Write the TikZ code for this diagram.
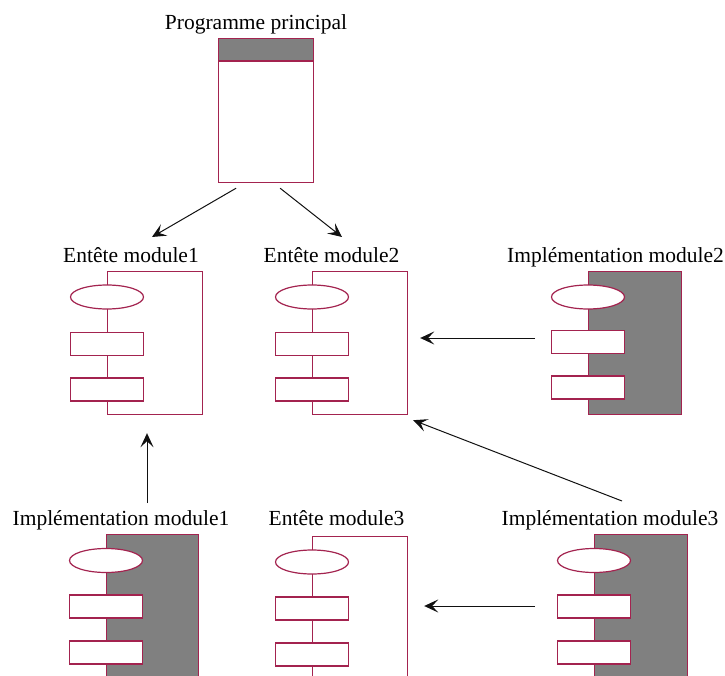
\documentclass[tikz,border=0pt]{standalone}
\usepackage{fontspec}
\setmainfont{Liberation Serif}
\usepackage{tikz}
\usetikzlibrary{arrows.meta,positioning,shapes.geometric}
\definecolor{framered}{HTML}{A3234F}
\definecolor{implgray}{HTML}{808080}
\definecolor{inkblack}{HTML}{111111}
\tikzset{
  headframe/.style={
    rectangle, draw=framered, line width=1.2pt, fill=white,
    anchor=north west, inner sep=0pt, minimum width=95pt, minimum height=143pt
  },
  implframe/.style={
    headframe, fill=implgray, minimum width=93pt
  },
  procoval/.style={
    ellipse, draw=framered, line width=1.2pt, fill=white,
    inner sep=0pt, minimum width=73pt, minimum height=24pt
  },
  procbox/.style={
    rectangle, draw=framered, line width=1.2pt, fill=white,
    inner sep=0pt, minimum width=73pt, minimum height=23pt
  },
  modlabel/.style={anchor=base, inner sep=0pt, font=\fontsize{21.5}{24}\selectfont},
  linkarrow/.style={-{Stealth[length=14pt,width=13pt,inset=6pt]}, line width=1pt, color=inkblack},
}
\begin{document}
\begin{tikzpicture}[x=1pt, y=-1pt]
  \useasboundingbox (0,0) rectangle (725,676);
  \clip (0,0) rectangle (725,676);

  % programme principal
  \node[modlabel] (lblprog) at (256,30) {Programme principal};
  \node[headframe, minimum width=95pt, minimum height=144pt] (prog) at (218,38) {};
  \node[headframe, fill=implgray, minimum width=95pt, minimum height=22.5pt] (proghead) at (218,38) {};

  % entete module1
  \node[modlabel] (lblhda) at (131,262) {Entête module1};
  \node[headframe] (hda) at (107,271) {};
  \node[procoval] (hdaop) at ([yshift=-26pt]hda.north west) {};
  \node[procbox] (hdaa) at ([yshift=-73pt]hda.north west) {};
  \node[procbox] (hdab) at ([yshift=-118.5pt]hda.north west) {};

  % entete module2
  \node[modlabel] (lblhdb) at (331.5,262) {Entête module2};
  \node[headframe] (hdb) at (312,271) {};
  \node[procoval] (hdbop) at ([yshift=-26pt]hdb.north west) {};
  \node[procbox] (hdba) at ([yshift=-73pt]hdb.north west) {};
  \node[procbox] (hdbb) at ([yshift=-118.5pt]hdb.north west) {};

  % implementation module2
  \node[modlabel] (lblimb) at (615.5,262) {Implémentation module2};
  \node[implframe] (imb) at (588,271) {};
  \node[procoval] (imbop) at ([yshift=-26pt]imb.north west) {};
  \node[procbox] (imba) at ([yshift=-71pt]imb.north west) {};
  \node[procbox] (imbb) at ([yshift=-116.5pt]imb.north west) {};

  % implementation module1
  \node[modlabel] (lblima) at (121,525) {Implémentation module1};
  \node[implframe, minimum width=92pt] (ima) at (106,534) {};
  \node[procoval] (imaop) at ([yshift=-26.5pt]ima.north west) {};
  \node[procbox] (imaa) at ([yshift=-72.5pt]ima.north west) {};
  \node[procbox] (imab) at ([yshift=-118.5pt]ima.north west) {};

  % entete module3
  \node[modlabel] (lblhdc) at (336.5,525) {Entête module3};
  \node[headframe] (hdc) at (312,536) {};
  \node[procoval] (hdcop) at ([yshift=-26pt]hdc.north west) {};
  \node[procbox] (hdca) at ([yshift=-72.5pt]hdc.north west) {};
  \node[procbox] (hdcb) at ([yshift=-118.5pt]hdc.north west) {};

  % implementation module3
  \node[modlabel] (lblimc) at (610,525) {Implémentation module3};
  \node[implframe] (imc) at (594,534) {};
  \node[procoval] (imcop) at ([yshift=-26.5pt]imc.north west) {};
  \node[procbox] (imca) at ([yshift=-72.5pt]imc.north west) {};
  \node[procbox] (imcb) at ([yshift=-118.5pt]imc.north west) {};

  % dependencies
  \draw[linkarrow] ([xshift=-30pt,yshift=-5pt]prog.south) -- ([xshift=45pt,yshift=34pt]hda.north west);
  \draw[linkarrow] ([xshift=14pt,yshift=-5pt]prog.south) -- ([xshift=30pt,yshift=34pt]hdb.north west);
  \draw[linkarrow] ([xshift=-53pt,yshift=-67pt]imb.north west) -- ([xshift=12pt,yshift=-67pt]hdb.north east);
  \draw[linkarrow] ([xshift=28pt,yshift=33pt]imc.north west) -- ([xshift=5pt,yshift=-5pt]hdb.south east);
  \draw[linkarrow] ([xshift=41pt,yshift=31pt]ima.north west) -- ([xshift=40pt,yshift=-18pt]hda.south west);
  \draw[linkarrow] ([xshift=-59pt,yshift=-72pt]imc.north west) -- ([xshift=16pt,yshift=-70pt]hdc.north east);
\end{tikzpicture}
\end{document}
